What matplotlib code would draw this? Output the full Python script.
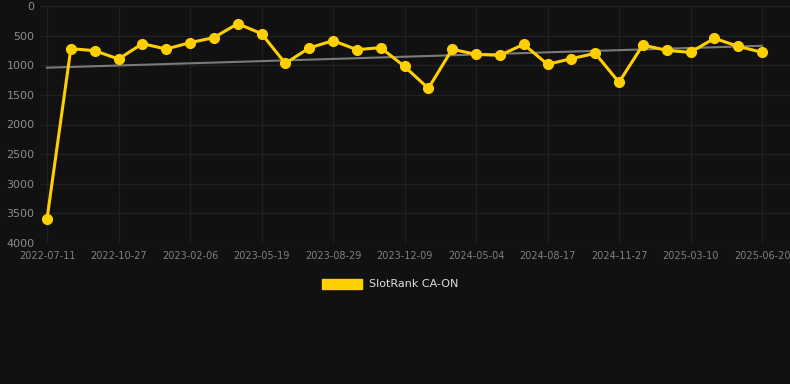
import matplotlib
matplotlib.use("Agg")
import matplotlib.pyplot as plt
import numpy as np
from matplotlib.patches import Patch

# rank values, one per period (evenly spaced)
ranks = [3595, 720, 754, 895, 636, 726, 619, 534, 298, 467,
         968, 709, 585, 737, 703, 1020, 1390, 731, 816, 833,
         647, 985, 889, 799, 1288, 658, 749, 782, 546, 681, 782]
tick_labels = ["2022-07-11", "2022-10-27", "2023-02-06", "2023-05-19",
               "2023-08-29", "2023-12-09", "2024-05-04", "2024-08-17",
               "2024-11-27", "2025-03-10", "2025-06-20"]
series_name = "SlotRank CA-ON"

bg = "#111111"
gold = "#ffd000"

fig = plt.figure(figsize=(7.9, 3.84), dpi=100, facecolor=bg)
ax = fig.add_axes([40 / 790, 1 - 243 / 384, 750 / 790, 237 / 384])
ax.set_facecolor(bg)

x = np.arange(len(ranks))
slope, icpt = np.polyfit(x, ranks, 1)
ax.plot(x, icpt + slope * x, color="#7a7a7a", lw=1.5, zorder=2)
ax.plot(x, ranks, color=gold, lw=2.2, marker="o", ms=7,
        markerfacecolor=gold, markeredgecolor=gold, zorder=3)

px = 715 / 30
ax.set_xlim(-7 / px, 30 + 28 / px)
ax.set_ylim(4000, 0)
ax.set_yticks(np.arange(0, 4001, 500))
ax.set_xticks(x[::3])
ax.set_xticklabels(tick_labels)

ax.grid(True, color="#202020", lw=1)
for s in ax.spines.values():
    s.set_visible(False)
ax.tick_params(axis="both", length=0)
ax.tick_params(axis="y", colors="#8c8c8c", labelsize=8, pad=4)
ax.tick_params(axis="x", colors="#808080", labelsize=7, pad=6)

leg = fig.legend(handles=[Patch(facecolor=gold, edgecolor=gold)],
                 labels=[series_name], loc="center",
                 bbox_to_anchor=(390 / 790, 1 - 284 / 384),
                 frameon=False, fontsize=8, handlelength=3.6,
                 handleheight=1.0, handletextpad=0.6)
for t in leg.get_texts():
    t.set_color("#dddddd")

fig.savefig("out.png", dpi=100, facecolor=bg)
